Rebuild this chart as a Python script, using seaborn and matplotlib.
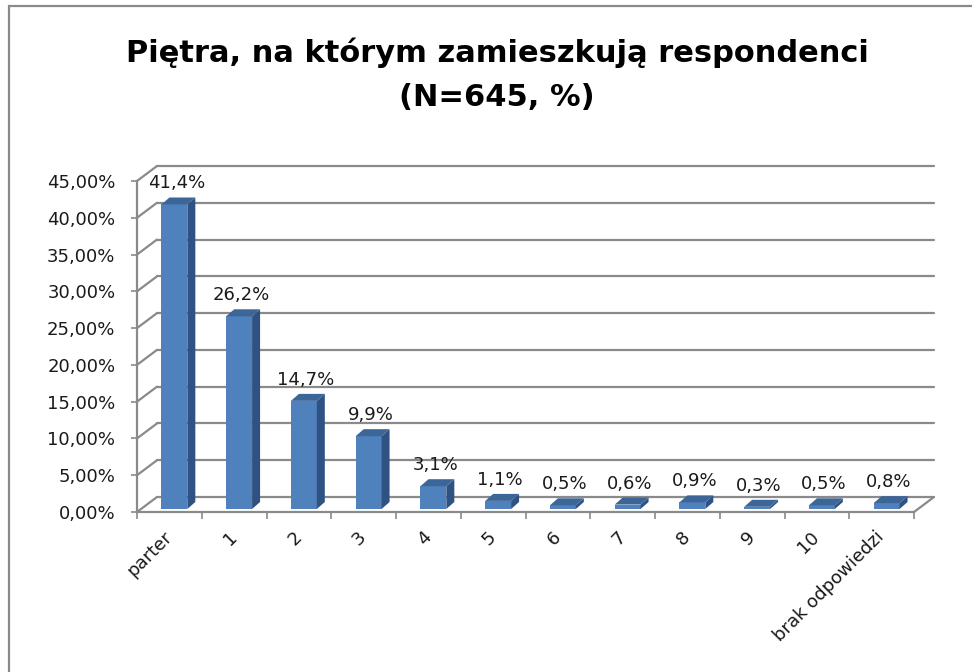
import matplotlib
matplotlib.use("Agg")
import matplotlib.pyplot as plt
import seaborn as sns
import pandas as pd
import numpy as np
from matplotlib.patches import Polygon, Rectangle
from matplotlib.lines import Line2D
from matplotlib.transforms import ScaledTranslation, IdentityTransform

# Floor levels and share of respondents living on each (%)
categories = ["parter", "1", "2", "3", "4", "5", "6", "7", "8", "9", "10",
              "brak odpowiedzi"]
shares = [41.4, 26.2, 14.7, 9.9, 3.1, 1.1, 0.5, 0.6, 0.9, 0.3, 0.5, 0.8]
y_ticks = [0, 5, 10, 15, 20, 25, 30, 35, 40, 45]
y_tick_labels = ["0,00%", "5,00%", "10,00%", "15,00%", "20,00%", "25,00%",
                 "30,00%", "35,00%", "40,00%", "45,00%"]
title_lines = ["Piętra, na którym zamieszkują respondenci", "(N=645, %)"]

sns.set_theme(style="white")
plt.rcParams["font.family"] = ["DejaVu Sans"]

W, H = 972, 672
DPI = 100
fig = plt.figure(figsize=(W / DPI, H / DPI), dpi=DPI)
fig.patch.set_facecolor("white")

GRID = "#8a8a8a"
FRONT = "#4F81BD"
SIDE = "#2F5283"
TOP = "#3C6698"
TXT = "#1a1a1a"
FS = 13

# front plane of the 3D box, in pixels
X0, X1 = 137, 914
Y0, YT = 512, 181
ax = fig.add_axes([X0 / W, 1 - Y0 / H, (X1 - X0) / W, (Y0 - YT) / H])
ax.set_facecolor("none")

df = pd.DataFrame({"pietro": categories, "udzial": shares})
sns.barplot(data=df, x="pietro", y="udzial", width=0.4, color=FRONT,
            saturation=1, ax=ax, zorder=3)
ax.set_xlim(-0.5, len(categories) - 0.5)
ax.set_ylim(0, 45)

# depth offsets in pixels (x right, y up)
WALL = np.array([20.0, 15.0])
BF = np.array([5.0, 3.0])    # bar front face
BB = np.array([13.0, 10.0])  # bar back face

fig.canvas.draw()
to_px = ax.transData.transform
ident = IdentityTransform()

# back wall gridlines and left wall diagonals
xl, xr = -0.5, len(categories) - 0.5
for t in y_ticks:
    a = to_px((xl, t))
    b = to_px((xr, t))
    ax.add_line(Line2D([a[0] + WALL[0], b[0] + WALL[0]],
                       [a[1] + WALL[1], b[1] + WALL[1]],
                       transform=ident, color=GRID, lw=1.6, clip_on=False,
                       zorder=1))
    ax.add_line(Line2D([a[0], a[0] + WALL[0]], [a[1], a[1] + WALL[1]],
                       transform=ident, color=GRID, lw=1.6, clip_on=False,
                       zorder=1))
# right edge of the floor
b = to_px((xr, 0))
ax.add_line(Line2D([b[0], b[0] + WALL[0]], [b[1], b[1] + WALL[1]],
                   transform=ident, color=GRID, lw=1.6, clip_on=False,
                   zorder=1))

# extrude each bar: shift front face, add side and top faces
shift = ScaledTranslation(BF[0] / DPI, BF[1] / DPI, fig.dpi_scale_trans)
for patch in ax.patches:
    x, w, h = patch.get_x(), patch.get_width(), patch.get_height()
    patch.set_transform(ax.transData + shift)
    patch.set_edgecolor("none")
    bl, br, tr, tl = (to_px(p) for p in [(x, 0), (x + w, 0), (x + w, h), (x, h)])
    side = [br + BF, br + BB, tr + BB, tr + BF]
    top = [tl + BF, tr + BF, tr + BB, tl + BB]
    ax.add_patch(Polygon(side, closed=True, transform=ident, facecolor=SIDE,
                         edgecolor="none", zorder=3, clip_on=False))
    ax.add_patch(Polygon(top, closed=True, transform=ident, facecolor=TOP,
                         edgecolor="none", zorder=3, clip_on=False))

# value labels above the bars
lab_shift = ScaledTranslation(7 / DPI, 24 / DPI, fig.dpi_scale_trans)
for i, v in enumerate(shares):
    ax.text(i, v, f"{v:.1f}".replace(".", ",") + "%",
            transform=ax.transData + lab_shift,
            ha="center", va="center", fontsize=FS, color=TXT, zorder=5,
            clip_on=False)

# axes styling
for s in ["top", "right"]:
    ax.spines[s].set_visible(False)
for s in ["left", "bottom"]:
    ax.spines[s].set_color(GRID)
    ax.spines[s].set_linewidth(1.6)

ax.set_yticks(y_ticks)
ax.set_yticklabels(y_tick_labels)
ax.tick_params(axis="y", which="major", left=True, length=4.5, width=1.2,
               color=GRID, pad=11, labelsize=FS, labelcolor=TXT)
ax.set_xticks(range(len(categories)))
ax.set_xticklabels(categories, rotation=45, ha="right",
                   rotation_mode="anchor", va="center")
ax.set_xticks(np.arange(-0.5, len(categories), 1.0), minor=True)
ax.tick_params(axis="x", which="major", bottom=True, length=0, pad=16,
               labelsize=FS, labelcolor=TXT)
ax.tick_params(axis="x", which="minor", bottom=True, length=5, width=1.2,
               color=GRID)
ax.set_xlabel("")
ax.set_ylabel("")

# chart title
fig.text(497 / W, 1 - 62 / H, title_lines[0], ha="center", va="baseline",
         fontsize=22, fontweight="bold", color="black")
fig.text(497 / W, 1 - 106 / H, title_lines[1], ha="center", va="baseline",
         fontsize=22, fontweight="bold", color="black")

# chart area frame
fig.add_artist(Rectangle((9 / W, -0.1), 1.2, 1 - 6 / H + 0.1,
                         transform=fig.transFigure, fill=False,
                         edgecolor=GRID, lw=1.6))

fig.savefig("out.png", dpi=DPI, facecolor="white")
